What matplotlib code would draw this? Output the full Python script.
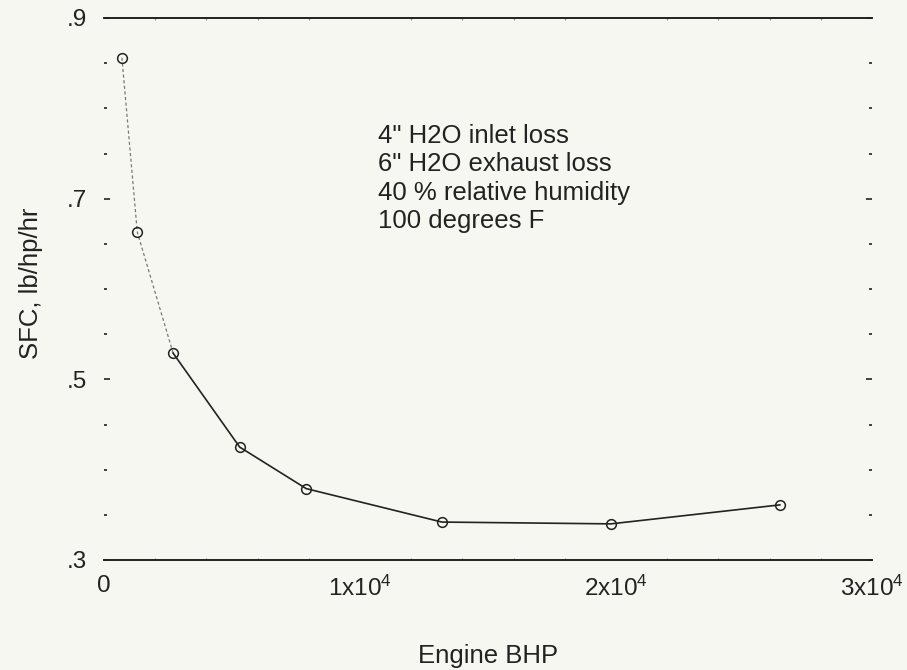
import matplotlib
matplotlib.use("Agg")
import matplotlib.pyplot as plt
from matplotlib.ticker import FixedLocator, MultipleLocator

# ---- data ----
engine_bhp = [700, 1300, 2700, 5300, 7900, 13200, 19800, 26400]
sfc = [0.856, 0.663, 0.529, 0.425, 0.379, 0.342, 0.340, 0.361]

x_ticks = [0, 10000, 20000, 30000]
x_tick_labels = ["0", r"1x10$^{4}$", r"2x10$^{4}$", r"3x10$^{4}$"]
y_ticks = [0.3, 0.5, 0.7, 0.9]
y_tick_labels = [".3", ".5", ".7", ".9"]

notes = ['4" H2O inlet loss', '6" H2O exhaust loss',
         '40 % relative humidity', '100 degrees F']

x_label = "Engine BHP"
y_label = "SFC, lb/hp/hr"

# ---- style ----
plt.rcParams['font.family'] = ['Liberation Sans', 'DejaVu Sans']
plt.rcParams['mathtext.fontset'] = 'custom'
plt.rcParams['mathtext.rm'] = 'Liberation Sans'
plt.rcParams['mathtext.it'] = 'Liberation Sans'
FS_TEXT = 18.5
FS_TICK = 17.5
bg = '#f7f7f2'
ink = '#222222'

fig = plt.figure(figsize=(9.07, 6.70), dpi=100, facecolor=bg)
ax = fig.add_axes([104/907, (670-560)/670, (872-104)/907, (560-18)/670])
ax.set_facecolor(bg)

# faint, broken upper part of the curve and solid lower part
ax.plot(engine_bhp[:3], sfc[:3], color='#777777', lw=0.9,
        linestyle=(0, (2.5, 2)), zorder=2)
ax.plot(engine_bhp[2:], sfc[2:], color=ink, lw=1.2, zorder=2)
ax.plot(engine_bhp, sfc, linestyle='none', marker='o', ms=7,
        mfc='none', mec=ink, mew=1.1, zorder=3)

ax.set_xlim(0, 30000)
ax.set_ylim(0.3, 0.9)

# spines: only top and bottom drawn
for s in ['left', 'right']:
    ax.spines[s].set_visible(False)
for s in ['top', 'bottom']:
    ax.spines[s].set_color(ink)
    ax.spines[s].set_linewidth(1.4)

ax.xaxis.set_major_locator(FixedLocator(x_ticks))
ax.set_xticklabels(x_tick_labels, fontsize=FS_TICK, color=ink)
ax.xaxis.set_minor_locator(MultipleLocator(2000))
ax.yaxis.set_major_locator(FixedLocator(y_ticks))
ax.set_yticklabels(y_tick_labels, fontsize=FS_TICK, color=ink)
ax.yaxis.set_minor_locator(MultipleLocator(0.05))

ax.tick_params(axis='y', which='major', direction='in', length=4, width=1.2,
               left=True, right=True, pad=12, colors=ink)
ax.tick_params(axis='y', which='minor', direction='in', length=2.5, width=1.2,
               left=True, right=True, colors=ink)
ax.tick_params(axis='x', which='major', direction='in', length=0,
               pad=11, colors=ink)
ax.tick_params(axis='x', which='minor', direction='in', length=1.5, width=0.8,
               bottom=True, top=True, colors='#888888')

ax.set_xlabel(x_label, fontsize=FS_TEXT, color=ink)
ax.xaxis.label.set_va('baseline')
ax.xaxis.set_label_coords(0.5, -0.190)
ax.set_ylabel(y_label, fontsize=FS_TEXT, color=ink)
ax.yaxis.set_label_coords(-0.080, 0.51)

for i, line in enumerate(notes):
    ax.text(0.357, 0.769 - i * 0.0522, line, transform=ax.transAxes,
            fontsize=FS_TEXT, color=ink, ha='left', va='baseline')

fig.savefig("out.png", dpi=100, facecolor=bg)
